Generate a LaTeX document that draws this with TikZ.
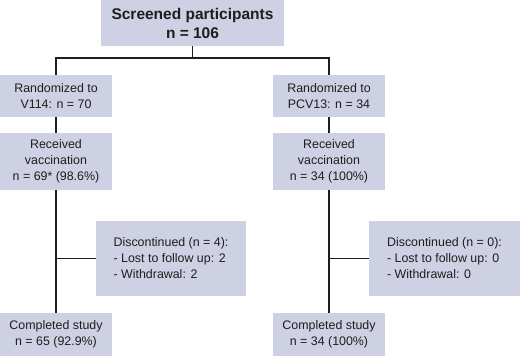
\documentclass[tikz,border=0pt]{standalone}
\usepackage{fontspec}
\setmainfont{Liberation Sans}
\definecolor{boxgray}{RGB}{206,208,227}
\definecolor{inkgray}{RGB}{30,30,30}
\begin{document}
\begin{tikzpicture}[
      x=1pt, y=-1pt,
      font=\fontsize{12.4}{16}\selectfont, text=inkgray,
      box/.style={
        fill=boxgray, align=center, inner sep=2pt,
        minimum width=112pt
      },
      root/.style={
        fill=boxgray, align=center, inner sep=2pt,
        minimum width=183pt, minimum height=46pt,
        font=\fontsize{15.5}{19}\selectfont\bfseries
      },
      side/.style={
        fill=boxgray, align=left,
        minimum width=150pt, minimum height=75pt
      },
      link/.style={line width=1.4pt, draw=inkgray}
    ]
    \useasboundingbox (0,0) rectangle (520,356);

    \node[root] (screen) at (192.5,23) {Screened participants\\n = 106};

    \node[box, minimum height=42pt] (randA) at (56,96) {Randomized to\\V114: n = 70};
    \node[box, minimum height=42pt] (randB) at (329,96) {Randomized to\\PCV13: n = 34};

    \node[box, minimum height=57pt] (vaccA) at (56,161.5) {Received\\vaccination\\n = 69* (98.6\%)};
    \node[box, minimum height=57pt] (vaccB) at (329,161.5) {Received\\vaccination\\n = 34 (100\%)};

    \node[side] (dropA) at (171,258.5) {Discontinued (n = 4):\\- Lost to follow up: 2\\- Withdrawal: 2};
    \node[side, minimum width=151pt] (dropB) at (444.5,258.5) {Discontinued (n = 0):\\- Lost to follow up: 0\\- Withdrawal: 0};

    \node[box, minimum height=43pt] (doneA) at (56,334.5) {Completed study\\n = 65 (92.9\%)};
    \node[box, minimum height=43pt] (doneB) at (329,334.5) {Completed study\\n = 34 (100\%)};

    \coordinate (split) at (192.5,58);
    \draw[link] (screen.south) -- (split);
    \draw[link] (randA.north) |- (split) -| (randB.north);
    \draw[link] (randA) -- (vaccA);
    \draw[link] (randB) -- (vaccB);
    \draw[link] (vaccA) -- (doneA);
    \draw[link] (vaccB) -- (doneB);
    \draw[link] (dropA.west) -- (dropA.west -| vaccA.south);
    \draw[link] (dropB.west) -- (dropB.west -| vaccB.south);
  \end{tikzpicture}
\end{document}
